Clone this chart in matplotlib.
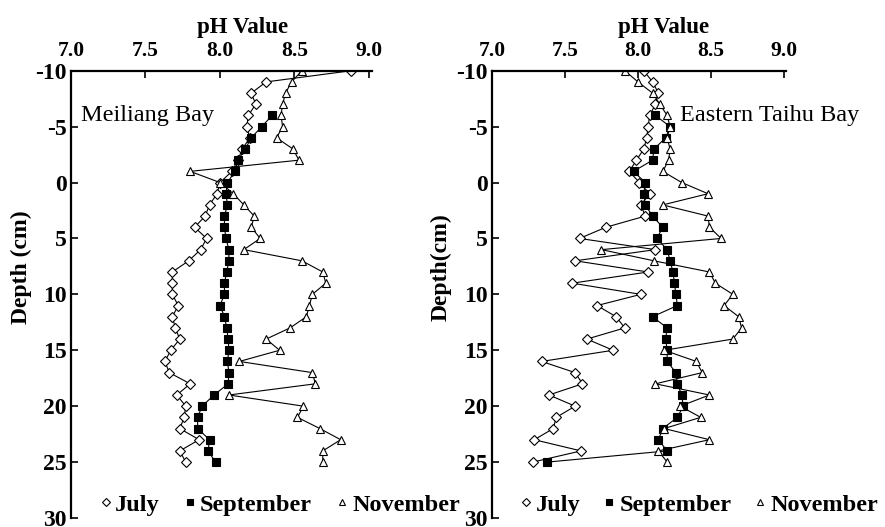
import matplotlib
matplotlib.use("Agg")
import matplotlib.pyplot as plt
from matplotlib.lines import Line2D

plt.rcParams["font.family"] = ["Liberation Serif", "DejaVu Serif"]
plt.rcParams["axes.unicode_minus"] = False

# Sediment depth (cm); negative depths are above the sediment surface
depth = list(range(-10, 26))
depth_sep = list(range(-6, 26))

meiliang_july = [8.88, 8.31, 8.21, 8.24, 8.19, 8.18, 8.20, 8.15, 8.12, 8.08,
                 8.00, 7.98, 7.93, 7.90, 7.83, 7.91, 7.87, 7.79, 7.68, 7.68,
                 7.68, 7.72, 7.68, 7.70, 7.73, 7.67, 7.63, 7.66, 7.80, 7.71,
                 7.77, 7.76, 7.73, 7.86, 7.73, 7.77]
meiliang_sep = [8.35, 8.28, 8.21, 8.17, 8.12, 8.10,
                8.05, 8.04, 8.05, 8.03, 8.03, 8.04, 8.06, 8.06, 8.045, 8.03,
                8.03, 8.00, 8.03, 8.045, 8.055, 8.06, 8.05, 8.06, 8.055, 7.96,
                7.88, 7.85, 7.85, 7.93, 7.92, 7.97]
meiliang_nov = [8.55, 8.48, 8.44, 8.42, 8.41, 8.42, 8.38, 8.49, 8.53, 7.80,
                8.00, 8.09, 8.16, 8.23, 8.21, 8.27, 8.16, 8.55, 8.69, 8.71,
                8.62, 8.60, 8.58, 8.47, 8.31, 8.40, 8.13, 8.62, 8.64, 8.06,
                8.56, 8.52, 8.67, 8.81, 8.69, 8.69]

taihu_july = [8.04, 8.10, 8.14, 8.12, 8.08, 8.07, 8.06, 8.04, 7.99, 7.94,
              8.01, 8.08, 8.02, 8.05, 7.78, 7.60, 8.12, 7.57, 8.07, 7.55,
              8.02, 7.72, 7.85, 7.91, 7.65, 7.83, 7.34, 7.57, 7.62, 7.39,
              7.57, 7.44, 7.42, 7.29, 7.61, 7.28]
taihu_sep = [8.12, 8.22, 8.19, 8.11, 8.10, 7.97,
             8.05, 8.04, 8.05, 8.10, 8.17, 8.13, 8.20, 8.22, 8.24, 8.25,
             8.26, 8.27, 8.10, 8.20, 8.19, 8.20, 8.20, 8.26, 8.27, 8.30,
             8.31, 8.27, 8.17, 8.14, 8.20, 7.38]
taihu_nov = [7.91, 8.00, 8.10, 8.15, 8.20, 8.22, 8.20, 8.22, 8.21, 8.17,
             8.30, 8.48, 8.17, 8.48, 8.49, 8.57, 7.75, 8.11, 8.49, 8.53,
             8.65, 8.59, 8.69, 8.71, 8.65, 8.18, 8.40, 8.44, 8.12, 8.49,
             8.29, 8.43, 8.18, 8.49, 8.14, 8.20]

months = ["July", "September", "November"]
ph_ticks = [7.0, 7.5, 8.0, 8.5, 9.0]
depth_ticks = [-10, -5, 0, 5, 10, 15, 20, 25, 30]

styles = {
    "July": dict(marker="D", ms=5.2, mfc="white", mec="black", mew=0.8),
    "September": dict(marker="s", ms=5.8, mfc="black", mec="black", mew=0.8),
    "November": dict(marker="^", ms=6.2, mfc="white", mec="black", mew=0.8),
}

fig = plt.figure(figsize=(8.85, 5.27), dpi=100)

panels = [
    dict(rect=[0.0802, 0.0171, 0.3401, 0.8487], xmax=9.02,
         series=[(depth, meiliang_july), (depth_sep, meiliang_sep), (depth, meiliang_nov)],
         name="Meiliang Bay", name_x=7.07, ylabel="Depth (cm)", ylabel_x=-0.13,
         xlabel_x=0.57, legend_x=0.095, colspace=1.0),
    dict(rect=[0.5559, 0.0171, 0.3322, 0.8487], xmax=9.014,
         series=[(depth, taihu_july), (depth_sep, taihu_sep), (depth, taihu_nov)],
         name="Eastern Taihu Bay", name_x=8.29, ylabel="Depth(cm)", ylabel_x=-0.136,
         xlabel_x=0.585, legend_x=0.095, colspace=0.95),
]

for p in panels:
    ax = fig.add_axes(p["rect"])
    for month, (d, v) in zip(months, p["series"]):
        ax.plot(v, d, color="black", lw=0.8, **styles[month])

    ax.set_xlim(7.0, p["xmax"])
    ax.set_ylim(30, -10)
    ax.xaxis.tick_top()
    ax.xaxis.set_label_position("top")
    ax.set_xticks(ph_ticks)
    ax.set_xticklabels([f"{t:.1f}" for t in ph_ticks])
    ax.set_yticks(depth_ticks)
    ax.set_yticklabels([str(t) for t in depth_ticks])

    for side in ("right", "bottom"):
        ax.spines[side].set_visible(False)
    for side in ("top", "left"):
        ax.spines[side].set_linewidth(1.6)

    ax.tick_params(axis="x", direction="in", length=5, width=1.2, pad=7,
                   labelsize=15.5)
    ax.tick_params(axis="y", direction="in", length=5, width=1.2, pad=3,
                   labelsize=17)
    for lab in ax.get_xticklabels() + ax.get_yticklabels():
        lab.set_fontweight("bold")

    ax.set_xlabel("pH Value", fontsize=16.5, fontweight="bold")
    ax.xaxis.set_label_coords(p["xlabel_x"], 1.084)
    ax.set_ylabel(p["ylabel"], fontsize=17, fontweight="bold")
    ax.yaxis.set_label_coords(p["ylabel_x"], 0.56)

    ax.text(p["name_x"], -6.0, p["name"], fontsize=17.5, va="center", ha="left")

    handles = [Line2D([], [], linestyle="none", color="black",
                      marker=styles[m]["marker"], ms=styles[m]["ms"] * 0.8,
                      mfc=styles[m]["mfc"], mec="black", mew=0.8)
               for m in months]
    ax.legend(handles, months, loc="center left", ncol=3, frameon=False,
              bbox_to_anchor=(p["legend_x"], 0.03), handlelength=0.5,
              handletextpad=0.15, columnspacing=p["colspace"], borderaxespad=0,
              borderpad=0,
              prop=dict(family=["Liberation Serif"], weight="bold", size=17.5))

fig.savefig("out.png", dpi=100)
